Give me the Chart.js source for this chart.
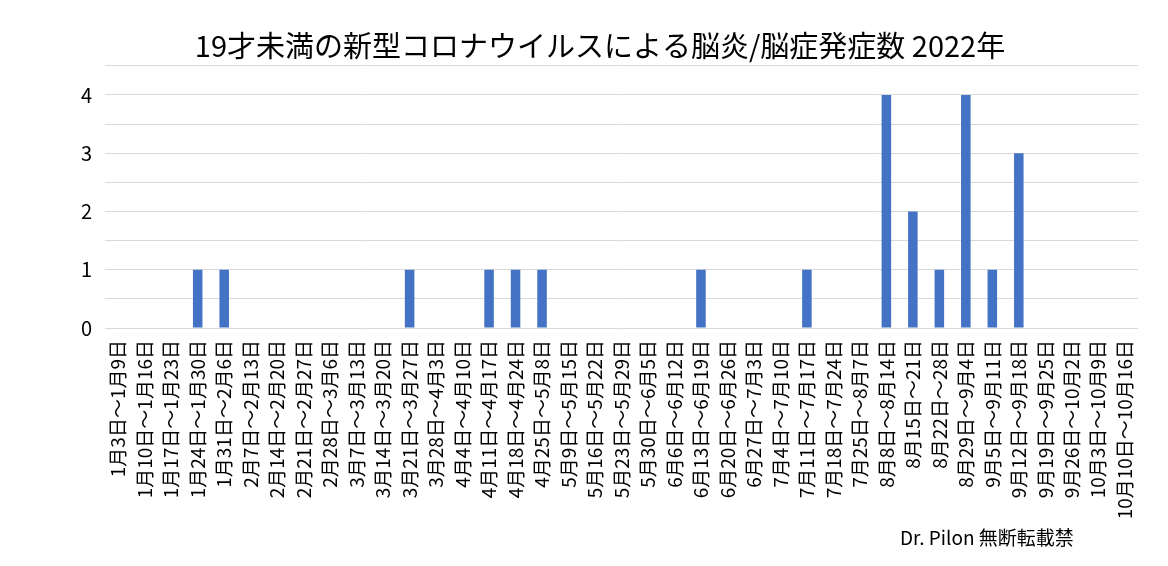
<!DOCTYPE html>
<html>
<head>
<meta charset="utf-8">
<script src="https://cdn.jsdelivr.net/npm/chart.js@4"></script>
<style>
  body { margin: 0; background: #fff; }
  #wrap { position: relative; width: 1168px; height: 566px; }
  #note { position: absolute; left: 900px; top: 523px; font: 19px "Noto Sans CJK JP", sans-serif; color: #000; line-height: 28px; }
</style>
</head>
<body>
<div id="wrap">
  <canvas id="chart" width="1168" height="566"></canvas>
  <div id="note">Dr. Pilon 無断転載禁</div>
</div>
<script>
// weekly periods, 2022
const weeks = [
  '1月3日～1月9日', '1月10日～1月16日', '1月17日～1月23日', '1月24日～1月30日',
  '1月31日～2月6日', '2月7日～2月13日', '2月14日～2月20日', '2月21日～2月27日',
  '2月28日～3月6日', '3月7日～3月13日', '3月14日～3月20日', '3月21日～3月27日',
  '3月28日～4月3日', '4月4日～4月10日', '4月11日～4月17日', '4月18日～4月24日',
  '4月25日～5月8日', '5月9日～5月15日', '5月16日～5月22日', '5月23日～5月29日',
  '5月30日～6月5日', '6月6日～6月12日', '6月13日～6月19日', '6月20日～6月26日',
  '6月27日～7月3日', '7月4日～7月10日', '7月11日～7月17日', '7月18日～7月24日',
  '7月25日～8月7日', '8月8日～8月14日', '8月15日～21日', '8月22日～28日',
  '8月29日～9月4日', '9月5日～9月11日', '9月12日～9月18日', '9月19日～9月25日',
  '9月26日～10月2日', '10月3日～10月9日', '10月10日～10月16日'
];

const cases = [
  0, 0, 0, 1,
  1, 0, 0, 0,
  0, 0, 0, 1,
  0, 0, 1, 1,
  1, 0, 0, 0,
  0, 0, 1, 0,
  0, 0, 1, 0,
  0, 4, 2, 1,
  4, 1, 3, 0,
  0, 0, 0
];

const yMax = 4.5;
const yStep = 0.5;

const font = '"Noto Sans CJK JP", "Noto Sans", sans-serif';

new Chart(document.getElementById('chart'), {
  type: 'bar',
  data: {
    labels: weeks,
    datasets: [{
      label: '発症数',
      data: cases,
      backgroundColor: '#4472C4',
      categoryPercentage: 1,
      barPercentage: 0.36
    }]
  },
  options: {
    responsive: false,
    animation: false,
    layout: { padding: { left: 62, right: 30, top: 0, bottom: 0 } },
    plugins: {
      legend: { display: false },
      tooltip: { enabled: false },
      title: {
        display: true,
        text: '19才未満の新型コロナウイルスによる脳炎/脳症発症数 2022年',
        color: '#000',
        font: { family: font, size: 29, weight: 'normal' },
        padding: { top: 29, bottom: 2 }
      }
    },
    scales: {
      x: {
        grid: { display: false, drawTicks: false },
        border: { display: false },
        ticks: {
          color: '#000',
          font: { family: font, size: 19 },
          minRotation: 90,
          maxRotation: 90,
          autoSkip: false,
          padding: 12
        },
        afterFit: s => { s.height = 238; }
      },
      y: {
        min: 0,
        max: yMax,
        grid: { color: '#d9d9d9', drawTicks: false },
        border: { display: false },
        ticks: {
          stepSize: yStep,
          color: '#000',
          font: { family: font, size: 20 },
          padding: 13,
          callback: v => Number.isInteger(v) ? v : ''
        },
        afterFit: s => { s.width = 43; }
      }
    }
  }
});
</script>
</body>
</html>
